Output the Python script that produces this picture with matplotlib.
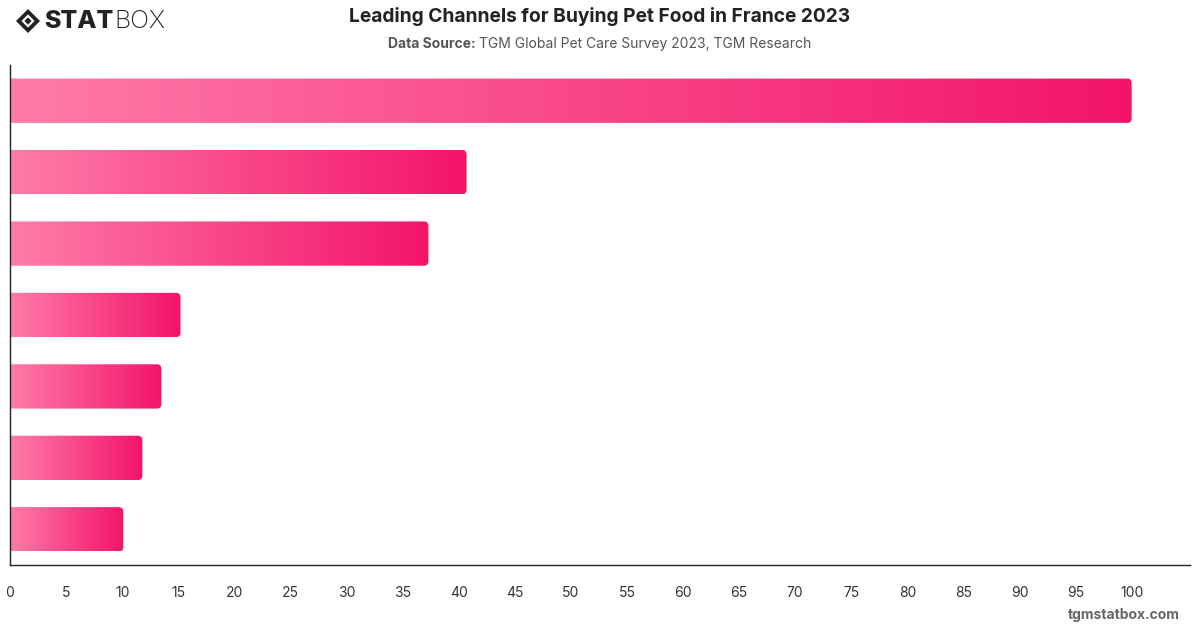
import numpy as np
import matplotlib
matplotlib.use("Agg")
import matplotlib.pyplot as plt
from matplotlib.patches import FancyBboxPatch, Polygon
from matplotlib.colors import LinearSegmentedColormap

# data (top to bottom), category labels are not shown
values = [100, 40.7, 37.3, 15.2, 13.5, 11.8, 10.1]
xticks = list(range(0, 105, 5))

plt.rcParams['font.family'] = ['Inter', 'DejaVu Sans']

W, H = 1200, 628
fig = plt.figure(figsize=(12, 6.28), dpi=100)
ax = fig.add_axes([10 / W, 1 - 565 / H, 1180 / W, 500 / H])

x_max = 105.2
cmap = LinearSegmentedColormap.from_list("pink", ["#ff7ba9", "#f3146a"])
grad = np.linspace(0, 1, 256).reshape(1, -1)

bar_h = 0.62
# aspect so that the rounded corners stay round in pixels
aspect = (len(values) / 500) / (x_max / 1180)
for i, v in enumerate(values):
    box = FancyBboxPatch((-2, i - bar_h / 2), v + 2, bar_h,
                         boxstyle="round,pad=0,rounding_size=0.4",
                         mutation_aspect=aspect,
                         facecolor="none", edgecolor="none")
    ax.add_patch(box)
    im = ax.imshow(grad, cmap=cmap, aspect="auto",
                   extent=(0, v, i + bar_h / 2, i - bar_h / 2), zorder=2)
    im.set_clip_path(box)

ax.set_xlim(0, x_max)
ax.set_ylim(len(values) - 0.5, -0.5)

ax.set_xticks(xticks)
ax.set_xticklabels([str(t) for t in xticks])
ax.set_yticks([])
ax.tick_params(axis="x", length=0, pad=15, labelsize=10, labelcolor="#333333")
for s in ["top", "right"]:
    ax.spines[s].set_visible(False)
for s in ["left", "bottom"]:
    ax.spines[s].set_color("#222222")
    ax.spines[s].set_linewidth(1.0)

renderer = fig.canvas.get_renderer()

# title and subtitle
fig.text(0.5, 1 - 17 / H, "Leading Channels for Buying Pet Food in France 2023",
         ha="center", va="center", fontsize=13.8, fontweight="bold", color="#222222")
sub_a = fig.text(0, 1 - 44 / H, "Data Source: ", ha="left", va="center",
                 fontsize=10, fontweight="bold", color="#555555")
sub_b = fig.text(0, 1 - 44 / H, "TGM Global Pet Care Survey 2023, TGM Research",
                 ha="left", va="center", fontsize=10, color="#555555")
wa = sub_a.get_window_extent(renderer).width
wb = sub_b.get_window_extent(renderer).width
x0 = (W - wa - wb) / 2
sub_a.set_x(x0 / W)
sub_b.set_x((x0 + wa) / W)

# logo
cx, cy, r = 28 / W, 1 - 21 / H, 12 / W
ry = 12 / H
for k, c in [(1.0, "#222222"), (0.55, "white"), (0.3, "#222222")]:
    fig.patches.append(Polygon([(cx - r * k, cy), (cx, cy + ry * k), (cx + r * k, cy),
                                (cx, cy - ry * k)], closed=True, transform=fig.transFigure,
                               facecolor=c, edgecolor="none"))
stat = fig.text(44 / W, 1 - 21 / H, "STAT", ha="left", va="center",
                fontsize=18, fontweight="heavy", color="#222222")
ws = stat.get_window_extent(renderer).width
fig.text((44 + ws + 1) / W, 1 - 21 / H, "BOX", ha="left", va="center",
         fontsize=18, fontweight="light", color="#222222")

fig.text(1180 / W, 1 - 615 / H, "tgmstatbox.com", ha="right", va="center",
         fontsize=10, fontweight="bold", color="#666666")

fig.savefig("out.png", dpi=100)
